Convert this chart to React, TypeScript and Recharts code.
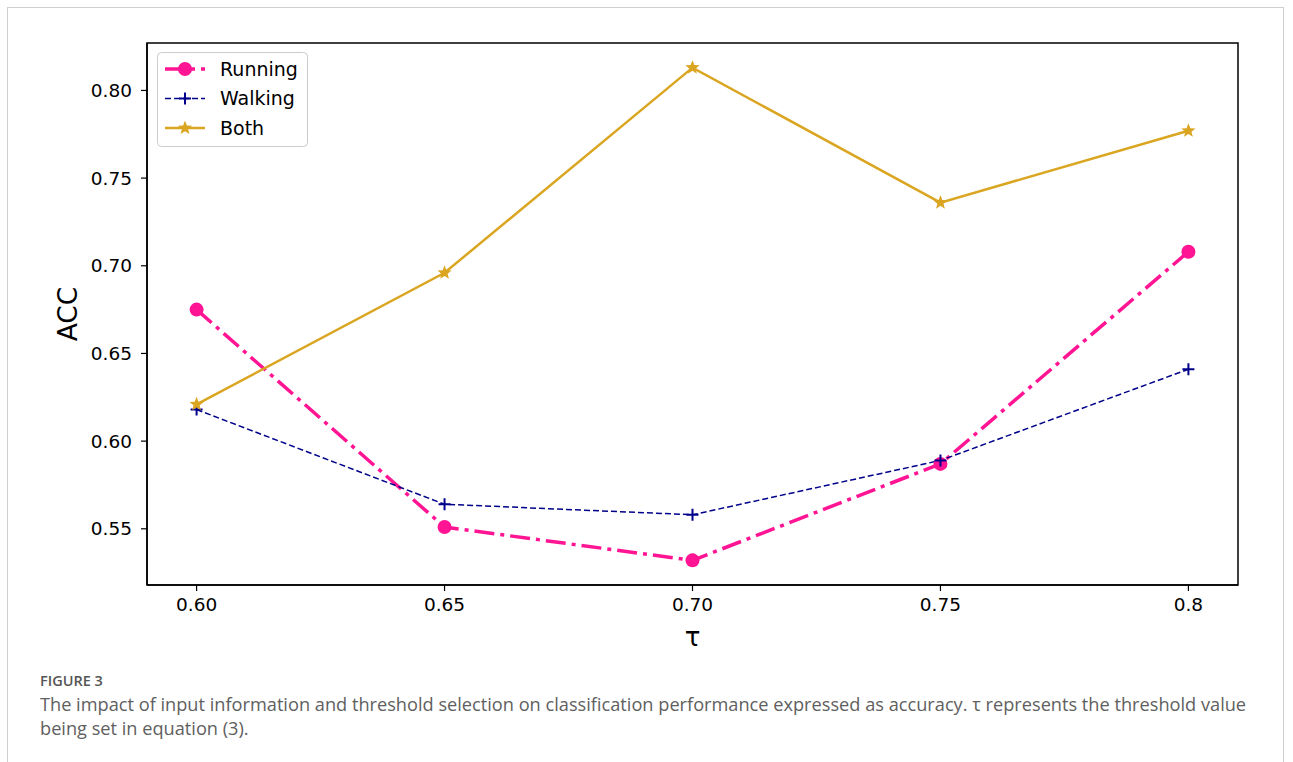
import React from 'react';
import { LineChart, Line, XAxis, YAxis, Legend, Label, ReferenceArea } from 'recharts';

// Threshold values (tau) and their tick labels
const tauValues = [0.6, 0.65, 0.7, 0.75, 0.8];
const tauLabels = ['0.60', '0.65', '0.70', '0.75', '0.8'];

// Accuracy for each input type
const runningAcc = [0.675, 0.551, 0.532, 0.587, 0.708];
const walkingAcc = [0.618, 0.564, 0.558, 0.589, 0.641];
const bothAcc = [0.621, 0.696, 0.813, 0.736, 0.777];

const yTicks = [0.55, 0.6, 0.65, 0.7, 0.75, 0.8];

const PINK = '#ff1493';
const NAVY = '#00008b';
const GOLD = '#daa520';
const FONT = 'DejaVu Sans';

const data = tauValues.map((t, i) => ({
  tau: t,
  running: runningAcc[i],
  walking: walkingAcc[i],
  both: bothAcc[i],
}));

// matplotlib-style 5% autoscale margins
const xMin = Math.min(...tauValues);
const xMax = Math.max(...tauValues);
const xPad = (xMax - xMin) * 0.05;
const allY = [...runningAcc, ...walkingAcc, ...bothAcc];
const yMin = Math.min(...allY);
const yMax = Math.max(...allY);
const yPad = (yMax - yMin) * 0.05;
const xDomain: [number, number] = [xMin - xPad, xMax + xPad];
const yDomain: [number, number] = [yMin - yPad, yMax + yPad];

const starPath = (cx: number, cy: number, ro: number, ri: number) => {
  const pts: string[] = [];
  for (let k = 0; k < 10; k++) {
    const r = k % 2 === 0 ? ro : ri;
    const a = -Math.PI / 2 + (k * Math.PI) / 5;
    pts.push(`${cx + r * Math.cos(a)},${cy + r * Math.sin(a)}`);
  }
  return `M${pts.join('L')}Z`;
};

const CircleDot = (p: any) => (
  <circle key={p.key ?? `c-${p.index}`} cx={p.cx} cy={p.cy} r={7} fill={PINK} />
);

const PlusDot = (p: any) => (
  <path
    key={p.key ?? `p-${p.index}`}
    d={`M${p.cx - 6},${p.cy}H${p.cx + 6}M${p.cx},${p.cy - 6}V${p.cy + 6}`}
    stroke={NAVY}
    strokeWidth={2}
    fill="none"
  />
);

const StarDot = (p: any) => (
  <path key={p.key ?? `s-${p.index}`} d={starPath(p.cx, p.cy, 7.5, 3.2)} fill={GOLD} />
);

const legendItems = [
  { name: 'Running', color: PINK, width: 3.5, dash: '20 6 4 6', marker: 'circle' },
  { name: 'Walking', color: NAVY, width: 1.5, dash: '6 3', marker: 'plus' },
  { name: 'Both', color: GOLD, width: 2.5, dash: undefined, marker: 'star' },
];

const LegendBox = () => (
  <svg width={152} height={96} style={{ display: 'block' }}>
    <rect x={0.5} y={0.5} width={150} height={94} rx={4} fill="#fff" fillOpacity={0.8} stroke="#cccccc" />
    {legendItems.map((it, i) => {
      const y = 17 + i * 29.5;
      return (
        <g key={it.name}>
          <line x1={8} x2={48} y1={y} y2={y} stroke={it.color} strokeWidth={it.width} strokeDasharray={it.dash} />
          {it.marker === 'circle' && <circle cx={28} cy={y} r={7} fill={PINK} />}
          {it.marker === 'plus' && (
            <path d={`M22,${y}H34M28,${y - 6}V${y + 6}`} stroke={NAVY} strokeWidth={2} />
          )}
          {it.marker === 'star' && <path d={starPath(28, y, 7.5, 3.2)} fill={GOLD} />}
          <text x={63} y={y} dy="0.36em" fontSize={19} fontFamily={FONT} fill="#000">
            {it.name}
          </text>
        </g>
      );
    })}
  </svg>
);

export default function App() {
  return (
    <div
      style={{
        position: 'absolute',
        left: 0,
        top: 0,
        width: 1293,
        height: 762,
        background: '#fff',
        overflow: 'hidden',
      }}
    >
      <div
        style={{
          position: 'absolute',
          left: 7,
          top: 7,
          width: 1277,
          height: 800,
          border: '1px solid #cfcfcf',
          boxSizing: 'border-box',
        }}
      />
      <div style={{ position: 'absolute', left: 0, top: 0 }}>
        <LineChart
          width={1293}
          height={660}
          data={data}
          margin={{ top: 43, right: 55, bottom: 35, left: 87 }}
        >
          {/* plot frame (all four spines) */}
          <ReferenceArea
            x1={xDomain[0]}
            x2={xDomain[1]}
            y1={yDomain[0]}
            y2={yDomain[1]}
            fill="none"
            fillOpacity={0}
            stroke="#000"
            strokeWidth={1.5}
            strokeOpacity={1}
          />
          <XAxis
            dataKey="tau"
            type="number"
            domain={xDomain}
            ticks={tauValues}
            tickFormatter={(v: number) => tauLabels[tauValues.indexOf(v)] ?? String(v)}
            height={40}
            allowDataOverflow
            stroke="#000"
            axisLine={{ stroke: '#000', strokeWidth: 1.5 }}
            tickLine={{ stroke: '#000', strokeWidth: 1.2 }}
            tickSize={6}
            tickMargin={7}
            tick={{ fill: '#000', fontSize: 18.5, fontFamily: FONT }}
          >
            <Label
              content={(props: any) => {
                const vb = props.viewBox || {};
                return (
                  <text
                    x={vb.x + vb.width / 2}
                    y={637}
                    textAnchor="middle"
                    dominantBaseline="central"
                    fontSize={26}
                    fontFamily={FONT}
                    fill="#000"
                  >
                    τ
                  </text>
                );
              }}
            />
          </XAxis>
          <YAxis
            type="number"
            domain={yDomain}
            ticks={yTicks}
            tickFormatter={(v: number) => v.toFixed(2)}
            width={60}
            allowDataOverflow
            axisLine={{ stroke: '#000', strokeWidth: 1.5 }}
            tickLine={{ stroke: '#000', strokeWidth: 1.2 }}
            tickSize={6}
            tickMargin={9}
            tick={{ fill: '#000', fontSize: 18.5, fontFamily: FONT }}
          >
            <Label
              content={(props: any) => {
                const vb = props.viewBox || {};
                const cy = vb.y + vb.height / 2;
                return (
                  <text
                    x={67}
                    y={cy}
                    transform={`rotate(-90 67 ${cy})`}
                    textAnchor="middle"
                    dominantBaseline="central"
                    fontSize={26.5}
                    fontFamily={FONT}
                    fill="#000"
                  >
                    ACC
                  </text>
                );
              }}
            />
          </YAxis>
          <Legend
            layout="vertical"
            align="center"
            verticalAlign="middle"
            wrapperStyle={{ position: 'absolute', left: 157, top: 52, width: 152, height: 96 }}
            content={() => <LegendBox />}
          />
          <Line
            dataKey="running"
            name="Running"
            stroke={PINK}
            strokeWidth={3.5}
            strokeDasharray="20 6 4 6"
            dot={CircleDot}
            activeDot={false}
            isAnimationActive={false}
          />
          <Line
            dataKey="walking"
            name="Walking"
            stroke={NAVY}
            strokeWidth={1.5}
            strokeDasharray="6 3"
            dot={PlusDot}
            activeDot={false}
            isAnimationActive={false}
          />
          <Line
            dataKey="both"
            name="Both"
            stroke={GOLD}
            strokeWidth={2.5}
            dot={StarDot}
            activeDot={false}
            isAnimationActive={false}
          />
        </LineChart>
      </div>
      <div
        style={{
          position: 'absolute',
          left: 40,
          top: 671,
          fontFamily: "'Open Sans', sans-serif",
          fontSize: 14.5,
          fontWeight: 600,
          color: '#555',
        }}
      >
        FIGURE 3
      </div>
      <div
        style={{
          position: 'absolute',
          left: 40,
          top: 692,
          fontFamily: "'Open Sans', sans-serif",
          fontSize: 18.2,
          color: '#606060',
          lineHeight: '24px',
          whiteSpace: 'nowrap',
        }}
      >
        <div>
          The impact of input information and threshold selection on classification performance expressed as accuracy. τ represents the threshold value
        </div>
        <div>being set in equation (3).</div>
      </div>
    </div>
  );
}
